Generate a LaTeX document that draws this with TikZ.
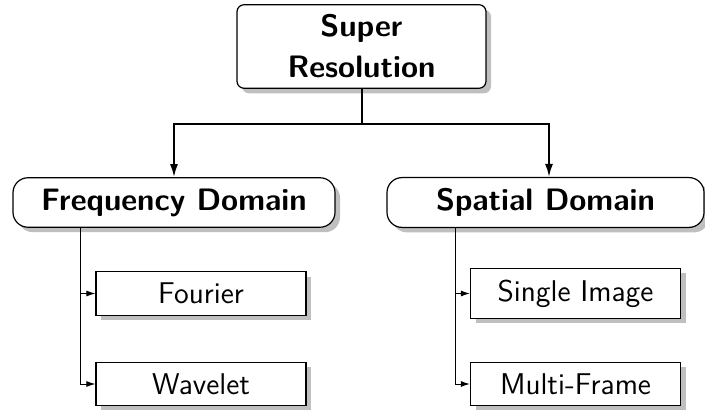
\documentclass[tikz,border=0pt]{standalone}
\usetikzlibrary{arrows.meta,shadows}

\tikzset{
  boxshadow/.style={drop shadow={shadow xshift=2.5pt, shadow yshift=-2.5pt, fill=black, opacity=.25}},
  rootbox/.style={draw, fill=white, line width=.6pt, rounded corners=3.5pt, boxshadow,
    minimum width=124.5pt, minimum height=40.5pt, inner ysep=5pt, align=center,
    font=\sffamily\bfseries\fontsize{15.5}{19.5}\selectfont},
  domainbox/.style={draw, fill=white, line width=.6pt, rounded corners=7.5pt, boxshadow,
    inner ysep=5.4pt, font=\sffamily\bfseries\fontsize{15.5}{18}\selectfont},
  methodbox/.style={draw, fill=white, line width=.6pt, boxshadow,
    minimum width=105pt, inner ysep=5.6pt, font=\sffamily\fontsize{15}{18}\selectfont},
  trunk/.style={line width=1pt, -{Latex[length=6.5pt,width=4pt]}},
  branch/.style={line width=.5pt, -{Latex[length=4.5pt,width=3pt]}}
}

\begin{document}
\begin{tikzpicture}[x=.5pt,y=-.5pt]
	\useasboundingbox (0,0) rectangle (705,410);

	% root
	\node[rootbox] (root) at (361.5,46.5) {Super\\[1pt]Resolution};

	% the two domains
	\node[domainbox, minimum width=161pt] (freq) at (174,202.5) {Frequency Domain};
	\node[domainbox, minimum width=158.5pt] (spatial) at (545.5,202.5) {Spatial Domain};

	% methods
	\node[methodbox] (fourier) at (201,293.5) {Fourier};
	\node[methodbox] (wavelet) at (201,384) {Wavelet};
	\node[methodbox] (single) at (575.5,293.5) {Single Image};
	\node[methodbox] (multi) at (575.5,384) {Multi-Frame};

	\coordinate (fork) at (361.5,124);
	\draw[line width=1pt] (root.south) -- (fork);
	\draw[trunk] (fork) -| (freq.north);
	\draw[trunk] (fork) -| ([xshift=1.75pt]spatial.north);

	\draw[branch] ([xshift=34pt]freq.south west) |- (fourier.west);
	\draw[branch] ([xshift=34pt]freq.south west) |- (wavelet.west);
	\draw[branch] ([xshift=34.5pt]spatial.south west) |- (single.west);
	\draw[branch] ([xshift=34.5pt]spatial.south west) |- (multi.west);
\end{tikzpicture}
\end{document}
